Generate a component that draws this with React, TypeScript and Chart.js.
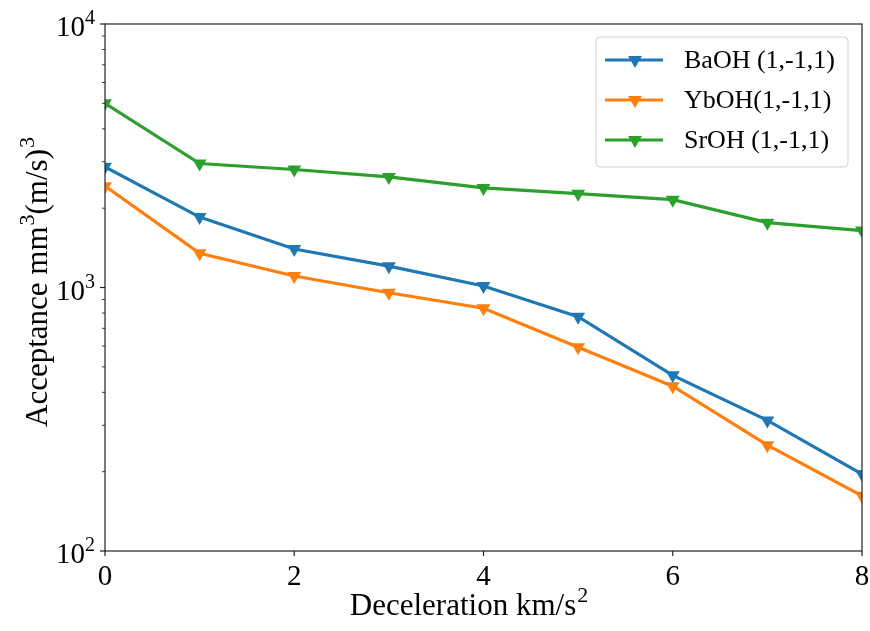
import React, { useEffect, useRef } from "react";
import { Chart, registerables } from "chart.js";
Chart.register(...registerables);

// ---- data ----
const decel = [0, 1, 2, 3, 4, 5, 6, 7, 8];
const baoh = [2870, 1850, 1400, 1205, 1013, 775, 464, 313, 196];
const yboh = [2425, 1348, 1106, 955, 834, 593, 422, 252, 162];
const sroh = [5000, 2954, 2804, 2629, 2388, 2270, 2155, 1762, 1645];
const seriesNames = ["BaOH (1,-1,1)", "YbOH(1,-1,1)", "SrOH (1,-1,1)"];
const seriesColors = ["#1f77b4", "#ff7f0e", "#2ca02c"];
const xTicks = [0, 2, 4, 6, 8];
const yDecades = [2, 3, 4];
const xTitleParts: [string, boolean][] = [["Deceleration km/s", false], ["2", true]];
const yTitleParts: [string, boolean][] = [["Acceptance mm", false], ["3", true], ["(m/s)", false], ["3", true]];

const FONT = '"Liberation Serif", "Times New Roman", serif';
const MAIN = 29;
const SUP = 20;
const TITLE = 31;
const TITLE_SUP = 22;

function drawParts(ctx: CanvasRenderingContext2D, parts: [string, boolean][], cx: number, baseline: number) {
  let total = 0;
  const widths = parts.map(([t, sup]) => {
    ctx.font = `${sup ? TITLE_SUP : TITLE}px ${FONT}`;
    const w = ctx.measureText(t).width + (sup ? 1 : 0);
    total += w;
    return w;
  });
  let x = cx - total / 2;
  ctx.textAlign = "left";
  ctx.textBaseline = "alphabetic";
  parts.forEach(([t, sup], i) => {
    ctx.font = `${sup ? TITLE_SUP : TITLE}px ${FONT}`;
    ctx.fillText(t, x + (sup ? 1 : 0), sup ? baseline - 13 : baseline);
    x += widths[i];
  });
}

function triDown(ctx: CanvasRenderingContext2D, x: number, y: number, r: number) {
  let rad = Math.PI;
  ctx.beginPath();
  for (let k = 0; k < 3; k++) {
    const px = x + Math.sin(rad) * r;
    const py = y - Math.cos(rad) * r;
    if (k === 0) ctx.moveTo(px, py);
    else ctx.lineTo(px, py);
    rad += (2 * Math.PI) / 3;
  }
  ctx.closePath();
  ctx.fill();
}

const mplPlugin = {
  id: "mplFrame",
  afterDraw(chart: any) {
    const ctx: CanvasRenderingContext2D = chart.ctx;
    const { left, right, top, bottom } = chart.chartArea;
    const xs = chart.scales.x;
    const ys = chart.scales.y;
    ctx.save();
    // frame
    ctx.strokeStyle = "#222";
    ctx.lineWidth = 1.2;
    ctx.strokeRect(left, top, right - left, bottom - top);
    // x ticks
    ctx.fillStyle = "#000";
    xTicks.forEach((v) => {
      const px = xs.getPixelForValue(v);
      ctx.beginPath();
      ctx.moveTo(px, bottom);
      ctx.lineTo(px, bottom + 5);
      ctx.stroke();
      ctx.font = `${MAIN}px ${FONT}`;
      ctx.textAlign = "center";
      ctx.textBaseline = "alphabetic";
      ctx.fillText(String(v), px, bottom + 34);
    });
    // y ticks
    yDecades.forEach((e) => {
      for (let m = 1; m <= 9; m++) {
        const v = m * Math.pow(10, e);
        if (v > ys.max + 1e-9) break;
        const py = ys.getPixelForValue(v);
        const len = m === 1 ? 5 : 3;
        ctx.lineWidth = m === 1 ? 1.2 : 0.9;
        ctx.beginPath();
        ctx.moveTo(left - len, py);
        ctx.lineTo(left, py);
        ctx.stroke();
      }
      const py = ys.getPixelForValue(Math.pow(10, e));
      const rightEdge = left - 10;
      ctx.textAlign = "right";
      ctx.textBaseline = "alphabetic";
      ctx.font = `${SUP}px ${FONT}`;
      const sw = ctx.measureText(String(e)).width;
      ctx.fillText(String(e), rightEdge, py);
      ctx.font = `${MAIN}px ${FONT}`;
      ctx.fillText("10", rightEdge - sw, py + 12);
    });
    // axis titles
    drawParts(ctx, xTitleParts, 469, bottom + 64);
    ctx.save();
    ctx.translate(47, 282);
    ctx.rotate(-Math.PI / 2);
    drawParts(ctx, yTitleParts, 0, 0);
    ctx.restore();
    // legend
    const bx = right - 266, by = top + 13, bw = 252, bh = 130;
    ctx.beginPath();
    if ((ctx as any).roundRect) (ctx as any).roundRect(bx, by, bw, bh, 4);
    else ctx.rect(bx, by, bw, bh);
    ctx.fillStyle = "rgba(255,255,255,0.8)";
    ctx.fill();
    ctx.strokeStyle = "#d0d0d0";
    ctx.lineWidth = 1;
    ctx.stroke();
    seriesNames.forEach((name, i) => {
      const cy = by + 23 + i * 40;
      ctx.strokeStyle = seriesColors[i];
      ctx.fillStyle = seriesColors[i];
      ctx.lineWidth = 3.2;
      ctx.beginPath();
      ctx.moveTo(bx + 9, cy);
      ctx.lineTo(bx + 67, cy);
      ctx.stroke();
      triDown(ctx, bx + 39, cy, 8);
      ctx.fillStyle = "#000";
      ctx.font = `26px ${FONT}`;
      ctx.textAlign = "left";
      ctx.textBaseline = "middle";
      ctx.fillText(name, bx + 88, cy + 1);
    });
    ctx.restore();
  },
};

export default function App() {
  const ref = useRef<HTMLCanvasElement | null>(null);
  useEffect(() => {
    document.body.style.margin = "0";
    const allSeries = [baoh, yboh, sroh];
    const chart = new Chart(ref.current as HTMLCanvasElement, {
      type: "line",
      data: {
        labels: decel,
        datasets: allSeries.map((vals, i) => ({
          label: seriesNames[i],
          data: decel.map((x, j) => ({ x, y: vals[j] })),
          borderColor: seriesColors[i],
          backgroundColor: seriesColors[i],
          borderWidth: 3.2,
          pointStyle: "triangle",
          pointRotation: 180,
          pointRadius: 8,
          pointBorderWidth: 0,
          pointBackgroundColor: seriesColors[i],
          tension: 0,
          clip: 0,
          fill: false,
        })),
      } as any,
      options: {
        animation: false,
        responsive: false,
        maintainAspectRatio: false,
        layout: { padding: { left: 0, right: 7, top: 24, bottom: 0 } },
        plugins: { legend: { display: false }, tooltip: { enabled: false } },
        scales: {
          x: {
            type: "linear",
            min: 0,
            max: 8,
            ticks: { display: false },
            grid: { display: false },
            border: { display: false },
            afterFit: (s: any) => {
              s.height = 80;
            },
          },
          y: {
            type: "logarithmic",
            min: 100,
            max: 10000,
            ticks: { display: false },
            grid: { display: false },
            border: { display: false },
            afterFit: (s: any) => {
              s.width = 105;
            },
          },
        },
      } as any,
      plugins: [mplPlugin],
    });
    return () => chart.destroy();
  }, []);
  return (
    <div style={{ width: 870, height: 631, background: "#fff" }}>
      <canvas ref={ref} width={870} height={631} style={{ display: "block" }} />
    </div>
  );
}
